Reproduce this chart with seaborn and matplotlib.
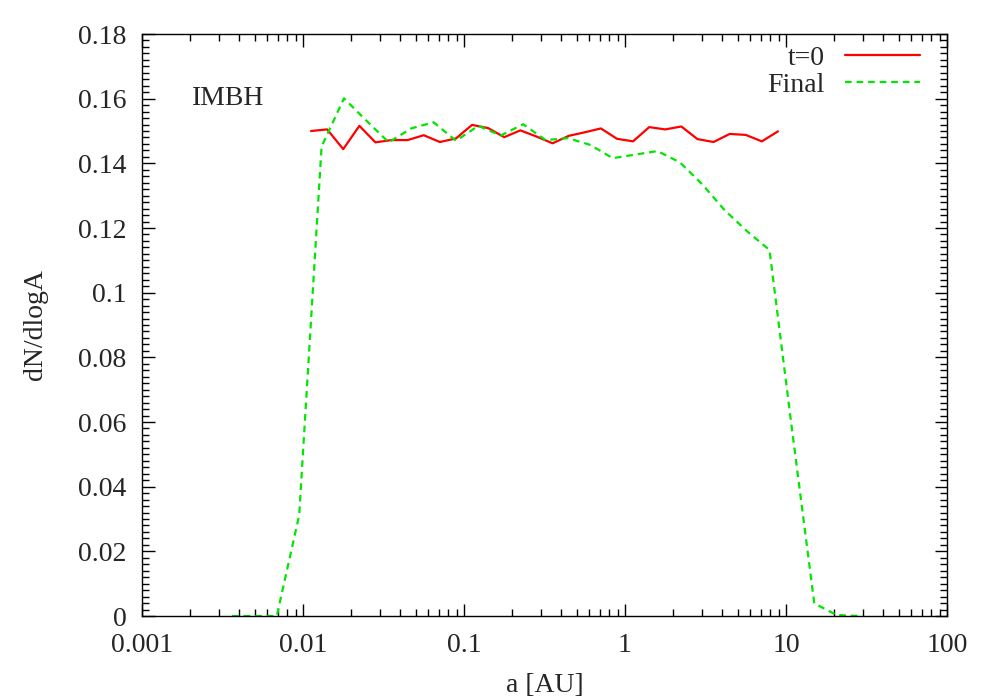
import numpy as np
import pandas as pd
import matplotlib
matplotlib.use("Agg")
import matplotlib.pyplot as plt
import seaborn as sns
from matplotlib.ticker import FixedLocator, FuncFormatter, MultipleLocator, LogLocator

# ---- data ----
t0_loga = [-1.95 + 0.1 * k for k in range(30)]
t0_vals = [0.1500, 0.1505, 0.1444, 0.1516, 0.1465, 0.1472, 0.1472, 0.1487, 0.1466, 0.1477,
           0.1519, 0.1509, 0.1481, 0.1502, 0.1483, 0.1462, 0.1485, 0.1496, 0.1508, 0.1476,
           0.1468, 0.1512, 0.1505, 0.1514, 0.1475, 0.1466, 0.1491, 0.1488, 0.1468, 0.1499]

final_loga = [-2.441 + 0.1391 * k for k in range(29)]
final_vals = [0.0, 0.0, 0.0, 0.0312, 0.1452, 0.1601, 0.1532, 0.1465, 0.1508, 0.1527,
              0.1470, 0.1516, 0.1486, 0.1521, 0.1472, 0.1478, 0.1457, 0.1416, 0.1427, 0.1438,
              0.1403, 0.1335, 0.1255, 0.1190, 0.1132, 0.0580, 0.0039, 0.0003, 0.0]

series_labels = ["t=0", "Final"]
x_ticks = [0.001, 0.01, 0.1, 1, 10, 100]
y_ticks = [0, 0.02, 0.04, 0.06, 0.08, 0.10, 0.12, 0.14, 0.16, 0.18]

df_t0 = pd.DataFrame({"a": np.power(10.0, t0_loga), "v": t0_vals})
df_fin = pd.DataFrame({"a": np.power(10.0, final_loga), "v": final_vals})

sns.set_style("ticks")
plt.rcParams["font.family"] = ["Liberation Serif", "DejaVu Serif"]

FS = 20
fig = plt.figure(figsize=(10, 7), dpi=100)
ax = fig.add_axes([0.142, 0.12, 0.805, 0.8314])

sns.lineplot(data=df_t0, x="a", y="v", ax=ax, color="#ff0000", lw=1.6,
             label=series_labels[0], estimator=None, sort=False)
sns.lineplot(data=df_fin, x="a", y="v", ax=ax, color="#00e600", lw=1.6,
             label=series_labels[1], estimator=None, sort=False)
ax.lines[1].set_dashes([3, 2.2])

ax.set_xscale("log")
ax.set_xlim(0.001, 100)
ax.set_ylim(0, 0.18)
ax.xaxis.set_major_locator(FixedLocator(x_ticks))
ax.xaxis.set_major_formatter(FuncFormatter(lambda v, p: "%g" % v))
ax.xaxis.set_minor_locator(LogLocator(base=10, subs=np.arange(2, 10)))
ax.yaxis.set_major_locator(FixedLocator(y_ticks))
ax.yaxis.set_major_formatter(FuncFormatter(lambda v, p: "%g" % round(v, 2)))
ax.yaxis.set_minor_locator(MultipleLocator(0.002))

ax.tick_params(which="both", direction="in", top=True, right=True, labelsize=FS, width=1, color="black")
ax.tick_params(which="major", length=9)
ax.tick_params(axis="y", which="major", pad=11)
ax.tick_params(axis="x", which="major", pad=12)
ax.tick_params(which="minor", length=5)
for s in ax.spines.values():
    s.set_linewidth(1.0)
    s.set_color("black")

ax.set_xlabel("a [AU]", fontsize=FS, labelpad=11)
ax.set_ylabel("dN/dlogA", fontsize=FS, labelpad=22)

ax.text(0.062, 0.89, "IMBH", transform=ax.transAxes, fontsize=FS, va="center", ha="left")

leg = ax.legend(loc="upper right", frameon=False, markerfirst=False, fontsize=FS,
                handlelength=2.7, handletextpad=0.7, labelspacing=0.05,
                bbox_to_anchor=(0.99, 1.014), borderaxespad=0.3)

fig.savefig("out.png", dpi=100)
